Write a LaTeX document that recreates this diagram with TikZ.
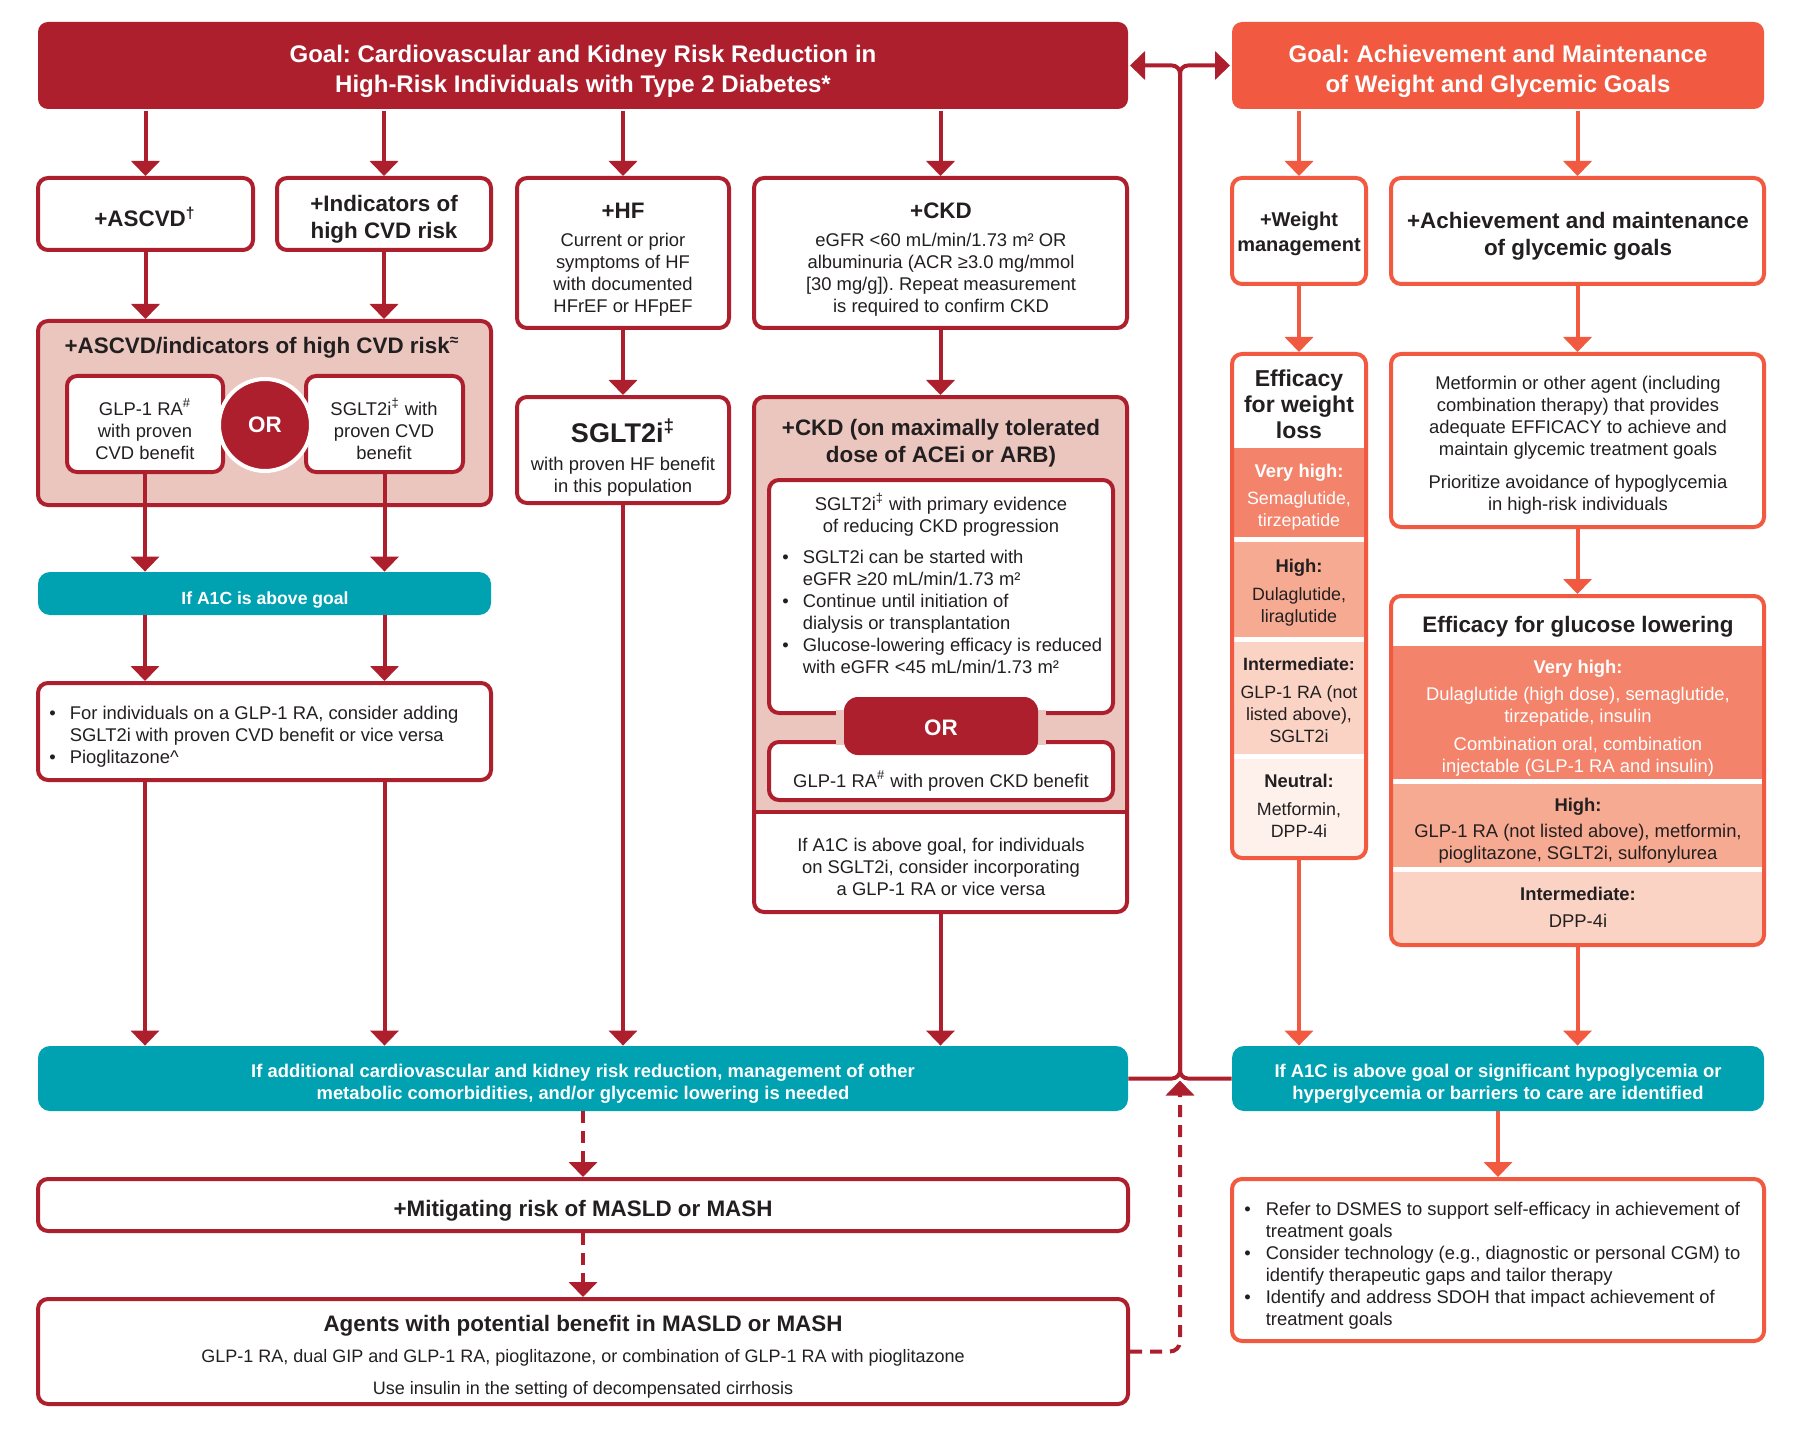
\documentclass[tikz,border=0pt]{standalone}
\usepackage{fontspec}
\setmainfont{Liberation Sans}
\frenchspacing
\usetikzlibrary{arrows.meta,fit,calc}
\definecolor{dred}{HTML}{AD1F2D}
\definecolor{coral}{HTML}{F15A40}
\definecolor{tealc}{HTML}{00A1B1}
\definecolor{pinkc}{HTML}{EBC6BF}
\definecolor{vhc}{HTML}{F3836A}
\definecolor{hic}{HTML}{F7AA92}
\definecolor{imc}{HTML}{FBD3C5}
\definecolor{nec}{HTML}{FEF1EC}
\definecolor{ink}{HTML}{231F20}
\newcommand\fbody{\fontsize{9.2}{11}\selectfont}
\newcommand\fnarrow{\fontsize{8.9}{11}\selectfont}
\newcommand\fhead{\fontsize{11.2}{13.5}\selectfont\bfseries}
\newcommand\fgoal{\fontsize{12}{15}\selectfont\bfseries}
\newcommand\fteal{\fontsize{9.2}{11}\selectfont\bfseries}
\newcommand\fsub{\fontsize{9.2}{11}\selectfont\bfseries}
\tikzset{
 rbox/.style={draw=dred, line width=2pt, rounded corners=5pt, fill=white, inner sep=0pt},
 cbox/.style={draw=coral, line width=2pt, rounded corners=5pt, fill=white, inner sep=0pt},
 tbox/.style={fill=tealc, rounded corners=6pt, inner sep=0pt, draw=none},
 txt/.style={align=center, inner sep=0pt, text=ink, font=\fbody, yshift=-1.5pt},
 ntxt/.style={txt, font=\fnarrow},
 hd/.style={align=center, inner sep=0pt, text=ink, font=\fhead, yshift=-1.5pt},
 sub/.style={align=center, inner sep=0pt, text=ink, font=\fsub, yshift=-1.5pt},
 wtxt/.style={align=center, inner sep=0pt, text=white, font=\fteal, yshift=-1.5pt},
 lowr/.style={yshift=-1pt},
 arr/.style={draw=dred, line width=2pt, -{Triangle[length=7.5pt,width=14pt]}},
 carr/.style={arr, draw=coral},
 darr/.style={arr, dash pattern=on 6pt off 4pt},
}
\begin{document}
\begin{tikzpicture}[x=0.5pt,y=-0.5pt]
\fill[white] (0,0) rectangle (1800,1439);
\useasboundingbox (0,0) rectangle (1800,1439);

% ---------- goals
\node[rbox, draw=none, fill=dred, fit={(38,22)(1128,109)}] (goalL) {};
\node[rbox, draw=none, fill=coral, fit={(1232,22)(1764,109)}] (goalR) {};
\node[align=center, inner sep=0pt, text=white, font=\fgoal, yshift=-1.2pt] (goalLt) at (583,69) {Goal: Cardiovascular and Kidney Risk Reduction in\\High-Risk Individuals with Type 2 Diabetes*};
\node[align=center, inner sep=0pt, text=white, font=\fgoal, yshift=-1.2pt] (goalRt) at (1498,69) {Goal: Achievement and Maintenance\\of Weight and Glycemic Goals};

% ---------- row 2
\node[rbox, fit={(38,178)(253,250)}] (asc) {};
\node[rbox, fit={(277,178)(491,250)}] (ind) {};
\node[rbox, fit={(517,178)(729,328)}] (hf) {};
\node[rbox, fit={(754,178)(1127,328)}] (ckd) {};
\node[cbox, fit={(1232,178)(1366,284)}] (wt) {};
\node[cbox, fit={(1391,178)(1764,284)}] (ach) {};
\node[hd, yshift=1pt] (asct) at (145,216) {+ASCVD\textsuperscript{†}};
\node[hd] (indt) at (384,216) {+Indicators of\\high CVD risk};
\node[hd] (hft) at (623,208) {+HF};
\node[txt] (hfb) at (623,272) {Current or prior\\symptoms of HF\\with documented\\HFrEF or HFpEF};
\node[hd] (ckdt) at (941,208) {+CKD};
\node[txt] (ckdb) at (941,272) {eGFR <60 mL/min/1.73 m² OR\\albuminuria (ACR ≥3.0 mg/mmol\\{}[30 mg/g]). Repeat measurement\\is required to confirm CKD};
\node[align=center, inner sep=0pt, text=ink, font={\fontsize{10}{12.5}\selectfont\bfseries}] (wtt) at (1299,234) {+Weight\\management};
\node[hd] (acht) at (1578,233) {+Achievement and maintenance\\of glycemic goals};

% ---------- ASCVD combo
\node[rbox, fill=pinkc, fit={(38,321)(491,505)}] (cvd) {};
\node[hd, lowr] (cvdt) at (262,343) {+ASCVD/indicators of high CVD risk\textsuperscript{≈}};
\node[rbox, fit={(67,376)(223,472)}] (glpI) {};
\node[rbox, fit={(306,376)(463,472)}] (sglI) {};
\node[txt] (glpIt) at (145,426) {GLP-1 RA\textsuperscript{\#}\\with proven\\CVD benefit};
\node[txt] (sglIt) at (384,426) {SGLT2i\textsuperscript{‡} with\\proven CVD\\benefit};
\node[circle, fill=dred, draw=white, line width=2pt, minimum size=46pt, inner sep=0pt, text=white, font=\fhead, yshift=-0.5pt] (orc) at (265,424) {OR};
\node[tbox, fit={(38,572)(491,615)}] (a1c) {};
\node[wtxt, lowr, font={\fontsize{8.8}{11}\selectfont\bfseries}] (a1ct) at (265,595) {If A1C is above goal};
\node[rbox, fit={(38,683)(491,780)}] (bul) {};
\node[inner sep=0pt, anchor=west, text=ink, font=\fbody, yshift=-1.5pt] (bult) at (49,734) {\begin{tabular}{@{}l@{\hspace{7pt}}l@{}}\textbullet & For individuals on a GLP-1 RA, consider adding\\ & SGLT2i with proven CVD benefit or vice versa\\ \textbullet & Pioglitazone\textasciicircum\end{tabular}};

% ---------- HF
\node[rbox, fit={(517,397)(729,503)}] (sg) {};
\node[align=center, inner sep=0pt, text=ink, font={\fontsize{13.5}{15}\selectfont\bfseries}, yshift=-1.5pt] (sgt) at (623,428) {SGLT2i\textsuperscript{‡}};
\node[txt] (sgb) at (623,474) {with proven HF benefit\\in this population};

% ---------- CKD detail
\fill[pinkc, rounded corners=5pt] (754,812) -- (754,397) -- (1127,397) -- (1127,812);
\node[rbox, fill=none, fit={(754,397)(1127,912)}] (ckd2) {};
\draw[dred, line width=2pt] (754,812) -- (1127,812);
\node[hd] (ckd2t) at (941,440) {+CKD (on maximally tolerated\\dose of ACEi or ARB)};
\node[rbox, fit={(769,480)(1113,713)}] (ckdA) {};
\node[rbox, fit={(769,742)(1113,800)}] (ckdB) {};
\fill[pinkc] (836,710) rectangle (1046,745);
\node[rbox, draw=none, fill=dred, rounded corners=7pt, fit={(844,697)(1038,755)}] (orb) {};
\node[inner sep=0pt, text=white, font=\fhead, yshift=-1pt] (orbt) at (941,726) {OR};
\node[txt] (ckdAt) at (941,512) {SGLT2i\textsuperscript{‡} with primary evidence\\of reducing CKD progression};
\node[inner sep=0pt, anchor=west, text=ink, font=\fbody, yshift=-1.5pt] (ckdAb) at (782,611) {\begin{tabular}{@{}l@{\hspace{7pt}}l@{}}\textbullet & SGLT2i can be started with\\ & eGFR ≥20 mL/min/1.73 m²\\ \textbullet & Continue until initiation of\\ & dialysis or transplantation\\ \textbullet & Glucose-lowering efficacy is reduced\\ & with eGFR <45 mL/min/1.73 m²\end{tabular}};
\node[txt] (ckdBt) at (941,778) {GLP-1 RA\textsuperscript{\#} with proven CKD benefit};
\node[txt] (ckd2b) at (941,864) {If A1C is above goal, for individuals\\on SGLT2i, consider incorporating\\a GLP-1 RA or vice versa};

% ---------- weight efficacy
\fill[vhc] (1232,448) rectangle (1366,537);
\fill[hic] (1232,542) rectangle (1366,637);
\fill[imc] (1232,642) rectangle (1366,754);
\fill[nec, rounded corners=5pt] (1232,759) -- (1232,858) -- (1366,858) -- (1366,759);
\node[cbox, fill=none, fit={(1232,354)(1366,858)}] (effw) {};
\node[align=center, inner sep=0pt, text=ink, font={\fontsize{11.5}{13}\selectfont\bfseries}] (effwt) at (1299,404) {Efficacy\\for weight\\loss};
\node[sub, text=white] (wv1) at (1299,470) {Very high:};
\node[ntxt, text=white] (wv2) at (1299,508) {Semaglutide,\\tirzepatide};
\node[sub] (wh1) at (1299,565) {High:};
\node[ntxt] (wh2) at (1299,604) {Dulaglutide,\\liraglutide};
\node[sub, font={\fontsize{8.9}{11}\selectfont\bfseries}] (wi1) at (1299,661) {Intermediate:};
\node[ntxt] (wi2) at (1299,711) {GLP-1 RA (not\\listed above),\\SGLT2i};
\node[sub] (wn1) at (1299,778) {Neutral:};
\node[ntxt] (wn2) at (1299,817) {Metformin,\\DPP-4i};

% ---------- glycemic
\node[cbox, fit={(1391,354)(1764,527)}] (met) {};
\node[txt] (mett) at (1578,415) {Metformin or other agent (including\\combination therapy) that provides\\adequate EFFICACY to achieve and\\maintain glycemic treatment goals};
\node[txt] (metb) at (1578,492) {Prioritize avoidance of hypoglycemia\\in high-risk individuals};
\fill[vhc] (1391,646) rectangle (1764,779);
\fill[hic] (1391,784) rectangle (1764,867);
\fill[imc, rounded corners=5pt] (1391,872) -- (1391,945) -- (1764,945) -- (1764,872);
\node[cbox, fill=none, fit={(1391,596)(1764,945)}] (effg) {};
\node[hd, lowr] (effgt) at (1578,622) {Efficacy for glucose lowering};
\node[sub, text=white] (gv1) at (1578,666) {Very high:};
\node[txt, text=white] (gv2) at (1578,704) {Dulaglutide (high dose), semaglutide,\\tirzepatide, insulin};
\node[txt, text=white] (gv3) at (1578,754) {Combination oral, combination\\injectable (GLP-1 RA and insulin)};
\node[sub] (gh1) at (1578,804) {High:};
\node[txt] (gh2) at (1578,841) {GLP-1 RA (not listed above), metformin,\\pioglitazone, SGLT2i, sulfonylurea};
\node[sub] (gi1) at (1578,891) {Intermediate:};
\node[txt] (gi2) at (1578,918) {DPP-4i};

% ---------- bottom
\node[tbox, fit={(38,1046)(1128,1111)}] (tealL) {};
\node[wtxt] (tealLt) at (583,1081) {If additional cardiovascular and kidney risk reduction, management of other\\metabolic comorbidities, and/or glycemic lowering is needed};
\node[tbox, fit={(1232,1046)(1764,1111)}] (tealR) {};
\node[wtxt] (tealRt) at (1498,1081) {If A1C is above goal or significant hypoglycemia or\\hyperglycemia or barriers to care are identified};
\node[rbox, fit={(38,1179)(1128,1231)}] (mit) {};
\node[hd, lowr] (mitt) at (583,1206) {+Mitigating risk of MASLD or MASH};
\node[rbox, fit={(38,1299)(1128,1404)}] (agents) {};
\node[hd] (agt) at (583,1323) {Agents with potential benefit in MASLD or MASH};
\node[txt, font={\fontsize{9}{11}\selectfont}] (ag2) at (583,1355) {GLP-1 RA, dual GIP and GLP-1 RA, pioglitazone, or combination of GLP-1 RA with pioglitazone};
\node[txt, font={\fontsize{9}{11}\selectfont}] (ag3) at (583,1387) {Use insulin in the setting of decompensated cirrhosis};
\node[cbox, fit={(1232,1179)(1764,1341)}] (rb) {};
\node[inner sep=0pt, anchor=west, text=ink, font=\fbody, yshift=-1.5pt] (rbt) at (1244,1263) {\begin{tabular}{@{}l@{\hspace{7.5pt}}l@{}}\textbullet & Refer to DSMES to support self-efficacy in achievement of\\ & treatment goals\\ \textbullet & Consider technology (e.g., diagnostic or personal CGM) to\\ & identify therapeutic gaps and tailor therapy\\ \textbullet & Identify and address SDOH that impact achievement of\\ & treatment goals\end{tabular}};

% ---------- connectors
\coordinate (jt) at ($(goalL.east)!0.5!(goalR.west)$);
\coordinate (jb) at ($(tealL.east)!0.5!(tealR.west)$);
\draw[arr] (asc.north |- goalL.south) -- (asc.north);
\draw[arr] (ind.north |- goalL.south) -- (ind.north);
\draw[arr] (hf.north |- goalL.south) -- (hf.north);
\draw[arr] (ckd.north |- goalL.south) -- (ckd.north);
\draw[arr] (asc.south) -- (asc.south |- cvd.north);
\draw[arr] (ind.south) -- (ind.south |- cvd.north);
\draw[arr] (glpI.south) -- (glpI.south |- a1c.north);
\draw[arr] (sglI.south) -- (sglI.south |- a1c.north);
\draw[arr] (glpI.south |- a1c.south) -- (glpI.south |- bul.north);
\draw[arr] (sglI.south |- a1c.south) -- (sglI.south |- bul.north);
\draw[arr] (glpI.south |- bul.south) -- (glpI.south |- tealL.north);
\draw[arr] (sglI.south |- bul.south) -- (sglI.south |- tealL.north);
\draw[arr] (hf.south) -- (sg.north);
\draw[arr] (sg.south) -- (sg.south |- tealL.north);
\draw[arr] (ckd.south) -- (ckd2.north);
\draw[arr] (ckd2.south) -- (ckd2.south |- tealL.north);
\draw[carr] (wt.north |- goalR.south) -- (wt.north);
\draw[carr] (ach.north |- goalR.south) -- (ach.north);
\draw[carr] (wt.south) -- (effw.north);
\draw[carr] (ach.south) -- (met.north);
\draw[carr] (met.south) -- (effg.north);
\draw[carr] (effw.south) -- (effw.south |- tealR.north);
\draw[carr] (effg.south) -- (effg.south |- tealR.north);
\draw[carr] (tealR.south) -- (rb.north);
\draw[darr] (tealL.south) -- (mit.north);
\draw[darr] (mit.south) -- (agents.north);
\draw[darr, rounded corners=5pt, shorten >=1pt] (agents.east) -- (agents.east -| jb) -- (jb);
\draw[arr, rounded corners=4pt] (tealL.east) -- (jb) -- (jt) -- (goalL.east);
\draw[arr, rounded corners=4pt] (tealR.west) -- (jb) -- (jt) -- (goalR.west);
\end{tikzpicture}
\end{document}
